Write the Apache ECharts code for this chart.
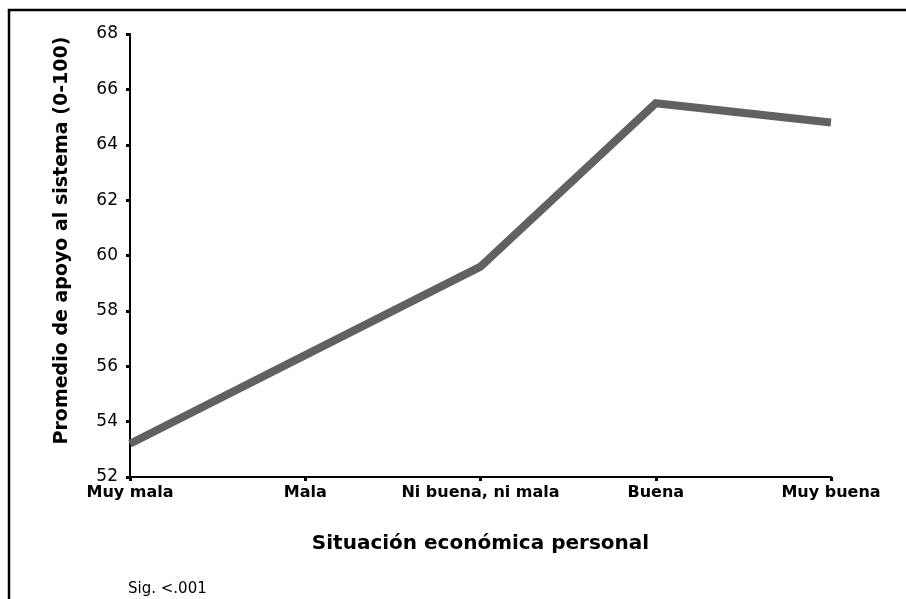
<!DOCTYPE html>
<html>
<head>
<meta charset="utf-8">
<script src="https://cdn.jsdelivr.net/npm/echarts@6/dist/echarts.min.js"></script>
<style>
html,body{margin:0;padding:0;background:#fff;}
#chart{width:906px;height:599px;}
</style>
</head>
<body>
<div id="chart"></div>
<script>
var categories = ['Muy mala', 'Mala', 'Ni buena, ni mala', 'Buena', 'Muy buena'];
var apoyo = [53.2, 56.4, 59.6, 65.5, 64.8];
var yTicks = { min: 52, max: 68, interval: 2 };
var xAxisTitle = 'Situación económica personal';
var yAxisTitle = 'Promedio de apoyo al sistema (0-100)';
var note = 'Sig. <.001';

var chart = echarts.init(document.getElementById('chart'), null, { renderer: 'canvas' });
chart.setOption({
  animation: false,
  backgroundColor: '#ffffff',
  grid: { left: 130, right: 75, top: 34, bottom: 122, containLabel: false },
  xAxis: {
    type: 'category',
    data: categories,
    boundaryGap: false,
    name: xAxisTitle,
    nameLocation: 'middle',
    nameGap: 57,
    nameTextStyle: { fontFamily: 'DejaVu Sans', fontWeight: 'bold', fontSize: 20, color: '#000' },
    axisLine: { lineStyle: { color: '#000', width: 2 } },
    axisTick: { show: true, length: 4, lineStyle: { color: '#000', width: 3 } },
    axisLabel: { margin: 8, fontFamily: 'DejaVu Sans', fontWeight: 'bold', fontSize: 16, color: '#000', interval: 0 },
    splitLine: { show: false }
  },
  yAxis: {
    type: 'value',
    min: yTicks.min,
    max: yTicks.max,
    interval: yTicks.interval,
    name: yAxisTitle,
    nameLocation: 'middle',
    nameGap: 58,
    nameRotate: 90,
    nameTextStyle: { fontFamily: 'DejaVu Sans', fontWeight: 'bold', fontSize: 19, color: '#000', padding: [0, 0, 0, 30] },
    axisLine: { show: true, lineStyle: { color: '#000', width: 2 } },
    axisTick: { show: true, length: 4, lineStyle: { color: '#000', width: 3 } },
    axisLabel: { margin: 12, fontFamily: 'DejaVu Sans', fontSize: 17, color: '#000' },
    splitLine: { show: false }
  },
  series: [{
    type: 'line',
    data: apoyo,
    symbol: 'none',
    lineStyle: { color: '#616161', width: 8, cap: 'butt', join: 'miter' }
  }],
  graphic: [
    { type: 'polyline', shape: { points: [[9, 599], [9, 10], [906, 10]] }, style: { stroke: '#000', lineWidth: 2.5, fill: null } },
    { type: 'text', left: 128, top: 582, style: { text: note, fontFamily: 'DejaVu Sans', fontSize: 15, fill: '#000' } }
  ]
});
</script>
</body>
</html>
